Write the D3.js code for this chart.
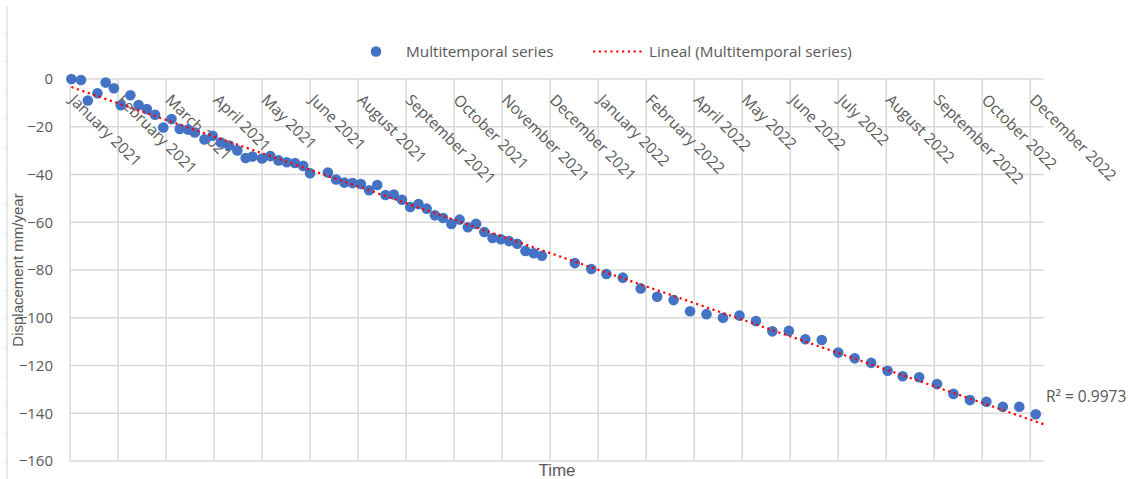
<!DOCTYPE html>
<html>
<head>
<meta charset="utf-8">
<script src="https://cdn.jsdelivr.net/npm/d3@7"></script>
<style>
  body { margin: 0; background: #ffffff; }
  svg { display: block; }
</style>
</head>
<body>
<svg id="chart" width="1128" height="479"></svg>
<script>
// Category tick labels along the time axis and their positions (days from the first tick)
const tickLabels = [
  "January 2021", "February 2021", "March 2021", "April 2021", "May 2021", "June 2021",
  "August 2021", "September 2021", "October 2021", "November 2021", "December 2021",
  "January 2022", "February 2022", "April 2022", "May 2022", "June 2022", "July 2022",
  "August 2022", "September 2022", "October 2022", "December 2022"
];
const tickDays = [0, 35, 70, 105, 140, 175, 210, 245, 280, 315, 350,
                  385, 420, 455, 490, 525, 560, 595, 630, 665, 700];
const yTicks = [0, -20, -40, -60, -80, -100, -120, -140, -160];

// Acquisition dates (days from the first tick) and cumulative displacement
const dayOffsets = [
  1, 8, 13, 20, 26, 32, 37, 44, 50, 56, 62, 68, 74, 80, 86, 91, 98, 104, 110, 116,
  122, 128, 133, 140, 146, 152, 158, 164, 170, 175, 188, 194, 200, 206, 212, 218, 224, 230, 236, 242,
  248, 254, 260, 266, 272, 278, 284, 290, 296, 302, 308, 314, 320, 326, 332, 338, 344,
  368, 380, 391, 403, 416, 428, 440, 452, 464, 476, 488, 500, 512, 524, 536, 548, 560,
  572, 584, 596, 607, 619, 632, 644, 656, 668, 680, 692, 704
];
const displacement = [
  0, -0.4, -9.0, -6.0, -1.5, -3.9, -11.0, -6.8, -10.9, -12.6, -15.0, -20.3, -16.8, -20.9, -21.2, -22.4, -25.3, -23.8, -26.6, -27.9,
  -29.9, -33.1, -32.5, -33.3, -32.3, -34.1, -34.9, -35.2, -36.4, -39.5, -39.2, -42.1, -43.4, -43.6, -44.0, -46.6, -44.4, -48.6, -48.4, -50.6,
  -53.6, -52.4, -54.3, -57.1, -58.2, -60.7, -58.9, -62.1, -60.7, -64.1, -66.6, -67.1, -67.9, -69.0, -72.0, -73.0, -74.0,
  -77.1, -79.6, -81.7, -83.2, -87.7, -91.2, -92.6, -97.3, -98.5, -100.0, -99.1, -101.4, -105.7, -105.5, -109.0, -109.3, -114.6,
  -117.0, -118.9, -122.2, -124.5, -124.9, -127.8, -131.9, -134.5, -135.2, -137.3, -137.3, -140.4
];

const seriesName = "Multitemporal series";
const trendName = "Lineal (Multitemporal series)";
const rSquaredLabel = "R\u00B2 = 0.9973";
const xTitle = "Time";
const yTitle = "Displacement mm/year";

const svg = d3.select("#chart");
const TEXT = "#595959";
const GRID = "#d9d9d9";
const BLUE = "#4472C4";
const uiFont = "'Open Sans', sans-serif";
const titleFont = "'Liberation Sans', Arial, sans-serif";

const plot = { left: 70, right: 1044, top: 79, bottom: 461 };
const x = d3.scaleLinear().domain([0, 710]).range([plot.left, plot.right]);
const y = d3.scaleLinear().domain([-160, 0]).range([plot.bottom, plot.top]);

// Outer frame edge on the left with small marks
const frame = svg.append("g");
frame.append("line")
  .attr("x1", 7).attr("x2", 7).attr("y1", 6).attr("y2", 479)
  .attr("stroke", "#d9d9d9").attr("stroke-width", 1.2);
frame.selectAll("line.mark")
  .data(d3.range(33, 479, 28.6))
  .join("line").attr("class", "mark")
  .attr("x1", 4).attr("x2", 7)
  .attr("y1", d => d).attr("y2", d => d)
  .attr("stroke", "#e3e3e3").attr("stroke-width", 1);

// Gridlines
const grid = svg.append("g");
grid.selectAll("line.h").data(yTicks).join("line").attr("class", "h")
  .attr("x1", plot.left).attr("x2", plot.right)
  .attr("y1", d => y(d)).attr("y2", d => y(d))
  .attr("stroke", GRID).attr("stroke-width", 1.5);
grid.selectAll("line.v").data(tickDays).join("line").attr("class", "v")
  .attr("x1", d => x(d)).attr("x2", d => x(d))
  .attr("y1", plot.top).attr("y2", plot.bottom)
  .attr("stroke", GRID).attr("stroke-width", 1.5);

// Y axis labels
const yAxis = svg.append("g")
  .attr("transform", `translate(${plot.left},0)`)
  .call(d3.axisLeft(y).tickValues(yTicks).tickSize(0).tickPadding(17).tickFormat(d3.format("d")));
yAxis.select(".domain").remove();
yAxis.selectAll("text")
  .attr("fill", TEXT).style("font-family", uiFont).style("font-size", "15px");

// X axis labels, rotated 45 degrees below the zero line
const xAxis = svg.append("g")
  .attr("transform", `translate(0,${plot.top})`)
  .call(d3.axisBottom(x).tickValues(tickDays).tickSize(0).tickFormat((d, i) => tickLabels[i]));
xAxis.select(".domain").remove();
xAxis.selectAll("text")
  .attr("x", 0).attr("y", 0).attr("dy", 0)
  .attr("text-anchor", "start")
  .attr("transform", "translate(-2,22) rotate(45)")
  .attr("fill", TEXT).style("font-family", uiFont).style("font-size", "15.5px");

// Linear trend from least squares fit of the series
const n = dayOffsets.length;
const mx = d3.mean(dayOffsets), my = d3.mean(displacement);
let sxy = 0, sxx = 0;
for (let i = 0; i < n; i++) {
  sxy += (dayOffsets[i] - mx) * (displacement[i] - my);
  sxx += (dayOffsets[i] - mx) ** 2;
}
const slope = sxy / sxx;
const intercept = my - slope * mx;
const trendX = [d3.min(dayOffsets), x.domain()[1]];

// Points
svg.append("g").selectAll("circle")
  .data(dayOffsets.map((d, i) => [d, displacement[i]]))
  .join("circle")
  .attr("cx", d => x(d[0])).attr("cy", d => y(d[1]))
  .attr("r", 5.3).attr("fill", BLUE);

svg.append("line")
  .attr("x1", x(trendX[0])).attr("y1", y(intercept + slope * trendX[0]))
  .attr("x2", x(trendX[1])).attr("y2", y(intercept + slope * trendX[1]))
  .attr("stroke", "#ff0000").attr("stroke-width", 2.2)
  .attr("stroke-dasharray", "2.2,3.6");

// R squared label
svg.append("text")
  .attr("x", 1046).attr("y", 402)
  .attr("fill", TEXT).style("font-family", uiFont).style("font-size", "15.5px")
  .text(rSquaredLabel);

// Axis titles
svg.append("text")
  .attr("transform", `translate(23,${(plot.top + plot.bottom) / 2}) rotate(-90)`)
  .attr("text-anchor", "middle")
  .attr("fill", TEXT).style("font-family", titleFont).style("font-size", "15px")
  .text(yTitle);
svg.append("text")
  .attr("x", (plot.left + plot.right) / 2).attr("y", 476)
  .attr("text-anchor", "middle")
  .attr("fill", TEXT).style("font-family", titleFont).style("font-size", "17px")
  .text(xTitle);

// Legend
const legend = svg.append("g").style("font-family", uiFont).style("font-size", "15.3px");
legend.append("circle").attr("cx", 376).attr("cy", 51.5).attr("r", 5.3).attr("fill", BLUE);
legend.append("text").attr("x", 406).attr("y", 51.5).attr("dy", "0.35em")
  .attr("fill", TEXT).text(seriesName);
legend.append("line").attr("x1", 593).attr("x2", 642).attr("y1", 51.5).attr("y2", 51.5)
  .attr("stroke", "#ff0000").attr("stroke-width", 2.2).attr("stroke-dasharray", "2.2,3.6");
legend.append("text").attr("x", 649).attr("y", 51.5).attr("dy", "0.35em")
  .attr("fill", TEXT).text(trendName);
</script>
</body>
</html>
